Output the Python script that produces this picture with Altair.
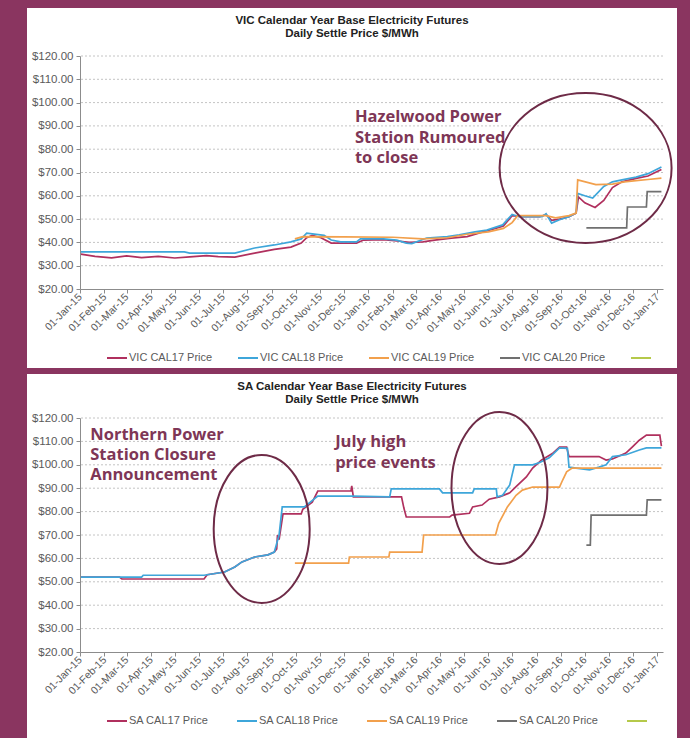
import altair as alt
import pandas as pd

# ---------------- VIC data ----------------
vic17_dates = ["2015-01-02","2015-01-20","2015-02-10","2015-03-01","2015-03-20","2015-04-10","2015-05-01","2015-05-20","2015-06-10","2015-06-25","2015-07-16","2015-08-10","2015-09-04","2015-09-25","2015-10-08","2015-10-15","2015-10-22","2015-11-02","2015-11-15","2015-12-17","2015-12-26","2016-01-20","2016-02-10","2016-02-22","2016-03-10","2016-03-25","2016-04-15","2016-05-05","2016-05-25","2016-06-10","2016-06-20","2016-07-01","2016-07-15","2016-08-05","2016-08-13","2016-08-20","2016-08-30","2016-09-11","2016-09-20","2016-09-23","2016-10-01","2016-10-14","2016-10-25","2016-11-05","2016-11-17","2016-12-05","2016-12-20","2017-01-06"]
vic17_vals = [35.0,34.0,33.4,34.2,33.5,34.0,33.3,33.8,34.3,33.9,33.7,35.4,37.0,38.0,39.7,42.0,43.0,42.0,39.7,39.7,41.0,41.2,40.5,40.0,40.2,41.0,41.8,42.5,44.5,46.0,47.0,51.5,51.0,51.0,52.0,49.5,50.0,51.0,52.5,59.5,57.0,55.0,58.0,63.5,66.0,67.5,68.5,71.3]

vic18_dates = ["2015-01-02","2015-05-13","2015-05-20","2015-07-16","2015-08-10","2015-09-04","2015-09-25","2015-10-08","2015-10-15","2015-11-06","2015-11-15","2015-11-27","2015-12-17","2015-12-22","2016-01-20","2016-02-06","2016-02-18","2016-02-25","2016-03-15","2016-04-10","2016-04-25","2016-05-15","2016-05-30","2016-06-19","2016-07-01","2016-07-10","2016-08-08","2016-08-13","2016-08-20","2016-08-30","2016-09-11","2016-09-20","2016-09-22","2016-10-01","2016-10-11","2016-10-25","2016-11-05","2016-11-17","2016-12-05","2016-12-20","2017-01-06"]
vic18_vals = [35.9,35.9,35.4,35.4,37.6,38.9,40.2,41.5,44.0,43.0,41.0,40.2,40.2,41.5,41.5,41.0,39.7,39.5,41.9,42.5,43.2,44.5,45.3,47.5,52.0,51.0,51.0,52.3,48.3,49.7,51.0,52.6,61.0,60.0,59.0,64.0,66.0,66.8,68.0,69.5,72.4]

vic19_dates = ["2015-09-30","2015-10-10","2015-12-01","2016-02-01","2016-03-10","2016-04-10","2016-05-05","2016-06-01","2016-06-20","2016-07-01","2016-07-08","2016-08-13","2016-08-25","2016-09-11","2016-09-20","2016-09-22","2016-10-15","2016-11-05","2016-11-20","2016-12-05","2016-12-20","2017-01-06"]
vic19_vals = [41.5,42.5,42.4,42.2,41.5,42.0,43.5,44.5,46.0,48.5,51.5,51.5,50.5,51.5,52.6,66.8,64.8,65.0,66.0,66.5,67.0,67.6]

vic20_dates = ["2016-10-03","2016-11-23","2016-11-24","2016-12-18","2016-12-19","2017-01-06"]
vic20_vals = [46.2,46.2,55.2,55.2,61.8,61.8]

# ---------------- SA data ----------------
sa17_dates = ["2015-01-02","2015-02-20","2015-02-23","2015-06-07","2015-06-11","2015-07-03","2015-07-16","2015-07-25","2015-08-10","2015-08-27","2015-09-04","2015-09-07","2015-09-08","2015-09-10","2015-09-15","2015-10-08","2015-10-10","2015-10-22","2015-10-29","2015-12-10","2015-12-11","2015-12-13","2016-02-12","2016-02-15","2016-02-18","2016-04-13","2016-04-16","2016-05-08","2016-05-12","2016-05-24","2016-06-02","2016-06-15","2016-06-28","2016-07-06","2016-07-19","2016-07-27","2016-08-07","2016-08-21","2016-08-30","2016-09-08","2016-09-11","2016-10-19","2016-10-28","2016-11-05","2016-11-22","2016-11-30","2016-12-09","2016-12-18","2017-01-04","2017-01-06"]
sa17_vals = [52.0,52.0,51.2,51.2,53.0,54.2,56.3,58.5,60.6,61.5,62.7,64.0,70.0,68.0,79.0,79.0,81.0,84.0,88.8,88.8,91.0,86.3,86.3,81.5,77.7,77.7,78.5,79.3,82.0,82.8,85.3,86.3,88.0,90.7,94.8,98.6,102.0,104.8,107.6,107.6,103.5,103.5,102.0,102.5,105.0,107.6,110.5,112.7,112.7,108.0]

sa18_dates = ["2015-01-02","2015-03-20","2015-03-22","2015-06-07","2015-06-11","2015-07-03","2015-07-16","2015-07-25","2015-08-10","2015-08-27","2015-09-04","2015-09-10","2015-09-14","2015-10-12","2015-10-23","2015-10-29","2015-12-12","2016-01-28","2016-01-30","2016-03-31","2016-04-04","2016-05-12","2016-05-14","2016-06-11","2016-06-12","2016-06-19","2016-06-28","2016-07-04","2016-07-27","2016-08-05","2016-08-17","2016-08-30","2016-09-09","2016-09-11","2016-10-07","2016-10-19","2016-10-28","2016-11-05","2016-11-22","2016-12-09","2016-12-18","2017-01-06"]
sa18_vals = [52.0,52.0,52.8,52.8,53.0,54.2,56.3,58.5,60.6,61.5,62.7,70.0,82.0,82.0,85.0,86.6,86.6,86.3,89.7,89.7,88.0,88.0,89.7,89.7,86.3,87.0,91.4,100.0,100.0,101.0,103.0,107.2,107.0,99.0,97.8,99.0,100.0,103.5,104.3,106.3,107.2,107.2]

sa19_dates = ["2015-09-30","2015-12-07","2015-12-08","2016-01-27","2016-01-28","2016-03-09","2016-03-11","2016-06-10","2016-06-14","2016-06-25","2016-07-06","2016-07-14","2016-07-27","2016-08-30","2016-09-03","2016-09-08","2016-09-15","2017-01-06"]
sa19_vals = [58.0,58.0,60.6,60.6,62.7,62.7,70.0,70.0,75.0,82.0,87.0,89.2,90.5,90.5,93.5,97.0,98.6,98.6]

sa20_dates = ["2016-10-03","2016-10-08","2016-10-09","2016-12-18","2016-12-19","2017-01-06"]
sa20_vals = [65.7,65.7,78.5,78.5,85.0,85.0]

# ---------------- labels / ticks ----------------
vic_names = ["VIC CAL17 Price", "VIC CAL18 Price", "VIC CAL19 Price", "VIC CAL20 Price", " "]
sa_names = ["SA CAL17 Price", "SA CAL18 Price", "SA CAL19 Price", "SA CAL20 Price", " "]
series_colors = ["#B0305E", "#3EA6DA", "#F2A04C", "#707070", "#B5C94A"]
y_ticks = [20, 30, 40, 50, 60, 70, 80, 90, 100, 110, 120]
month_ticks = [(2015, m) for m in range(1, 13)] + [(2016, m) for m in range(1, 13)] + [(2017, 1)]

vic_title = ["VIC Calendar Year Base Electricity Futures", "Daily Settle Price $/MWh"]
sa_title = ["SA Calendar Year Base Electricity Futures", "Daily Settle Price $/MWh"]

vic_notes = ["Hazelwood Power", "Station Rumoured", "to close"]
vic_note_dates = ["2015-12-15", "2015-12-15", "2015-12-15"]
vic_note_vals = [93.8, 84.8, 76.2]
sa_notes = ["Northern Power", "Station Closure", "Announcement", "July high", "price events"]
sa_note_dates = ["2015-01-14", "2015-01-14", "2015-01-14", "2015-11-20", "2015-11-20"]
sa_note_vals = [112.7, 104.2, 95.6, 109.7, 100.8]

# ellipse annotations (centre date, centre value, half-width px, half-height px)
vic_ellipses = [("2016-10-02", 71.9, 86, 75)]
sa_ellipses = [("2015-08-19", 72.6, 48, 74), ("2016-06-15", 90.1, 48, 76)]

BG = "#8A3560"
NOTE = "#7E3656"
RING = "#6E2B47"
FONT = "Liberation Sans"

XDOM = [alt.DateTime(year=2015, month=1, date=1), alt.DateTime(year=2017, month=1, date=8)]
XTICKS = [alt.DateTime(year=y, month=m, date=1) for y, m in month_ticks]


def series_df(names, pairs):
    rows = []
    for name, (ds, vs) in zip(names, pairs):
        for d, v in zip(ds, vs):
            rows.append({"date": pd.Timestamp(d), "price": v, "series": name})
    return pd.DataFrame(rows)


def ellipse_path(rx, ry):
    k = 0.5523
    a, b = rx * k, ry * k
    return (f"M{rx},0 C{rx},{b} {a},{ry} 0,{ry} C{-a},{ry} {-rx},{b} {-rx},0 "
            f"C{-rx},{-b} {-a},{-ry} 0,{-ry} C{a},{-ry} {rx},{-b} {rx},0 Z")


def panel(names, pairs, title, notes, note_dates, note_vals, ellipses, ph, colpad):
    df = series_df(names, pairs)
    xenc = alt.X("date:T", scale=alt.Scale(domain=XDOM),
                 axis=alt.Axis(values=XTICKS, format="%d-%b-%y", labelAngle=-45,
                               labelAlign="right", labelBaseline="middle", labelOverlap=False,
                               labelFont=FONT, labelFontSize=10.5, labelColor="#5a5a5a",
                               labelPadding=2, tickSize=4, tickColor="#8c8c8c",
                               domainColor="#8c8c8c", grid=False, zindex=1, title=None))
    yenc = alt.Y("price:Q", scale=alt.Scale(domain=[20, 120], nice=False),
                 axis=alt.Axis(values=y_ticks, format="$.2f", labelFont=FONT, labelFontSize=11.5,
                               labelColor="#5a5a5a", labelPadding=3, tickSize=4,
                               tickColor="#8c8c8c", domainColor="#8c8c8c", grid=False,
                               zindex=1, title=None))

    white = alt.Chart(pd.DataFrame({"a": [0]})).mark_rect(color="white").encode(
        x=alt.value(-53), x2=alt.value(597), y=alt.value(-(ph["top"])), y2=alt.value(ph["bottom"]))

    grid = alt.Chart(pd.DataFrame({"price": y_ticks[1:]})).mark_rule(
        color="#c4c4c4", strokeDash=[2, 2], strokeWidth=1).encode(y=yenc)

    lines = alt.Chart(df).mark_line(strokeWidth=1.7).encode(
        x=xenc, y=yenc,
        color=alt.Color("series:N",
                        scale=alt.Scale(domain=names, range=series_colors),
                        legend=alt.Legend(orient="none", legendX=26, legendY=ph["h"] + 58,
                                          direction="horizontal", columns=5, title=None,
                                          symbolType="stroke", symbolSize=400,
                                          symbolStrokeWidth=2, labelFont=FONT,
                                          labelFontSize=11, labelColor="#5a5a5a",
                                          labelOffset=1, columnPadding=colpad)),
        detail="series:N")

    layers = [white, grid, lines]
    for (d, v, rx, ry) in ellipses:
        edf = pd.DataFrame({"date": [pd.Timestamp(d)], "price": [v]})
        layers.append(alt.Chart(edf).mark_point(shape=ellipse_path(rx, ry), size=4, filled=False,
                                                 color=RING, strokeWidth=2, opacity=1).encode(
            x=xenc, y=yenc))

    ndf = pd.DataFrame({"date": [pd.Timestamp(d) for d in note_dates], "price": note_vals,
                        "label": notes})
    layers.append(alt.Chart(ndf).mark_text(align="left", baseline="middle", font="Open Sans",
                                           fontWeight="bold", fontSize=16.5, color=NOTE).encode(
        x=xenc, y=yenc, text="label:N"))

    tdf = pd.DataFrame({"t": [title[0]]})
    sdf = pd.DataFrame({"t": [title[1]]})
    layers.append(alt.Chart(tdf).mark_text(font=FONT, fontWeight="bold", fontSize=11.5,
                                           color="#222222", align="center", baseline="middle").encode(
        x=alt.value(272), y=alt.value(ph["t1"]), text="t:N"))
    layers.append(alt.Chart(sdf).mark_text(font=FONT, fontWeight="bold", fontSize=11.5,
                                           color="#222222", align="center", baseline="middle").encode(
        x=alt.value(272), y=alt.value(ph["t2"]), text="t:N"))

    return alt.layer(*layers).properties(width=583, height=ph["h"])


top = panel(vic_names,
            [(vic17_dates, vic17_vals), (vic18_dates, vic18_vals),
             (vic19_dates, vic19_vals), (vic20_dates, vic20_vals)],
            vic_title, vic_notes, vic_note_dates, vic_note_vals, vic_ellipses,
            {"top": 48, "bottom": 312, "h": 233, "t1": -35, "t2": -22}, 21)

bottom = panel(sa_names,
               [(sa17_dates, sa17_vals), (sa18_dates, sa18_vals),
                (sa19_dates, sa19_vals), (sa20_dates, sa20_vals)],
               sa_title, sa_notes, sa_note_dates, sa_note_vals, sa_ellipses,
               {"top": 44, "bottom": 320, "h": 234, "t1": -31, "t2": -18}, 24)

chart = alt.vconcat(top, bottom, spacing=6).properties(
    padding={"left": 27, "top": 8, "right": 13, "bottom": 0},
    background=BG,
).resolve_scale(color="independent").configure_view(strokeWidth=0)

chart.save("out.html", embed_options={"renderer": "svg", "actions": False})
